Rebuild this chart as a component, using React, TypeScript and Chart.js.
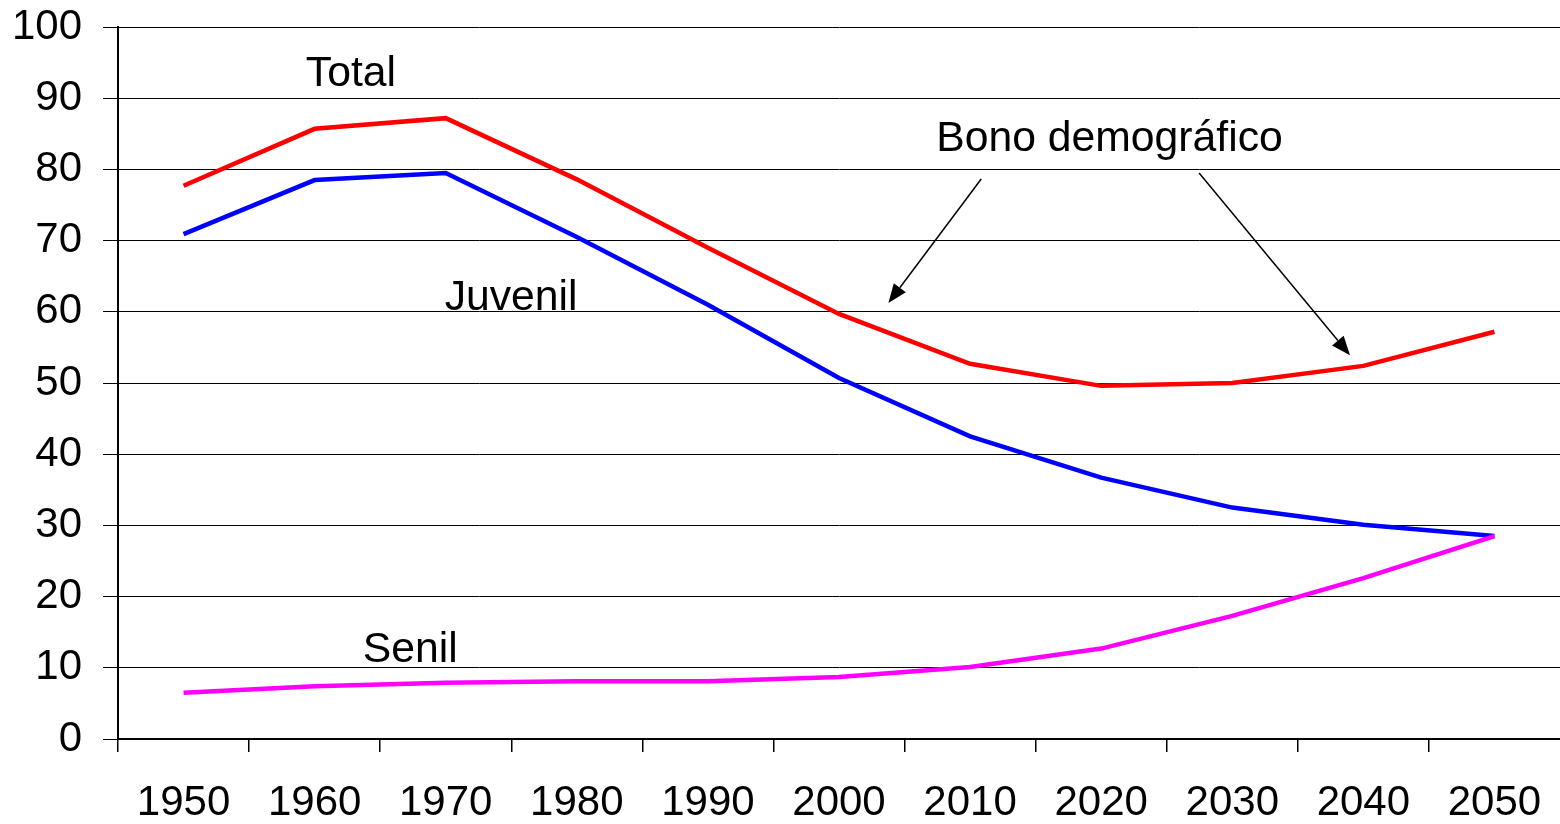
import React, { useEffect, useRef } from 'react';
import { Chart, registerables } from 'chart.js';

Chart.register(...registerables);

const years = ['1950', '1960', '1970', '1980', '1990', '2000', '2010', '2020', '2030', '2040', '2050'];
const total = [77.7, 85.7, 87.2, 78.6, 69.0, 59.7, 52.7, 49.6, 50.0, 52.4, 57.2];
const juvenil = [70.9, 78.5, 79.5, 70.5, 61.0, 50.7, 42.5, 36.7, 32.5, 30.1, 28.5];
const senil = [6.5, 7.4, 7.9, 8.1, 8.1, 8.7, 10.1, 12.7, 17.3, 22.6, 28.5];

const yMin = 0;
const yMax = 100;
const yStep = 10;

// Annotation texts, anchored in data units (category index, value)
const noteTexts = ['Total', 'Juvenil', 'Senil', 'Bono demográfico'];
const noteX = [0.933, 1.992, 1.367, 5.742];
const noteY = [91.7, 60.25, 10.8, 82.6];

// Arrows in data units
const arrowFromX = [6.085, 7.747];
const arrowFromY = [78.65, 79.5];
const arrowToX = [5.377, 8.898];
const arrowToY = [61.24, 53.9];

const FONT = "'Liberation Sans', Arial, sans-serif";
const FONT_SIZE = 42;
const NOTE_FONT_SIZE = 42.7;

const annotationPlugin = {
  id: 'annotations',
  afterDatasetsDraw(chart: any) {
    const ctx = chart.ctx as CanvasRenderingContext2D;
    const xs = chart.scales.x;
    const ys = chart.scales.y;
    ctx.save();
    ctx.fillStyle = '#000';
    ctx.font = `${NOTE_FONT_SIZE}px ${FONT}`;
    ctx.textAlign = 'left';
    ctx.textBaseline = 'alphabetic';
    noteTexts.forEach((t, i) => {
      ctx.fillText(t, xs.getPixelForValue(noteX[i]), ys.getPixelForValue(noteY[i]));
    });
    ctx.strokeStyle = '#000';
    ctx.lineWidth = 1.5;
    arrowFromX.forEach((_, i) => {
      const x1 = xs.getPixelForValue(arrowFromX[i]);
      const y1 = ys.getPixelForValue(arrowFromY[i]);
      const x2 = xs.getPixelForValue(arrowToX[i]);
      const y2 = ys.getPixelForValue(arrowToY[i]);
      const ang = Math.atan2(y2 - y1, x2 - x1);
      const headLen = 19;
      const headHalf = 7.5;
      const bx = x2 - headLen * Math.cos(ang);
      const by = y2 - headLen * Math.sin(ang);
      ctx.beginPath();
      ctx.moveTo(x1, y1);
      ctx.lineTo(bx, by);
      ctx.stroke();
      ctx.beginPath();
      ctx.moveTo(x2, y2);
      ctx.lineTo(bx + headHalf * Math.sin(ang), by - headHalf * Math.cos(ang));
      ctx.lineTo(bx - headHalf * Math.sin(ang), by + headHalf * Math.cos(ang));
      ctx.closePath();
      ctx.fill();
    });
    ctx.restore();
  },
};

export default function App() {
  const canvasRef = useRef<HTMLCanvasElement | null>(null);

  useEffect(() => {
    document.body.style.margin = '0';
    const canvas = canvasRef.current;
    if (!canvas) return;
    const chart = new Chart(canvas, {
      type: 'line',
      data: {
        labels: years,
        datasets: [
          { label: 'Total', data: total, borderColor: '#FF0000', backgroundColor: '#FF0000', borderWidth: 4.5, pointRadius: 0, tension: 0, fill: false },
          { label: 'Senil', data: senil, borderColor: '#FF00FF', backgroundColor: '#FF00FF', borderWidth: 4.5, pointRadius: 0, tension: 0, fill: false },
          { label: 'Juvenil', data: juvenil, borderColor: '#0000FF', backgroundColor: '#0000FF', borderWidth: 4.5, pointRadius: 0, tension: 0, fill: false },
        ],
      },
      options: {
        animation: false,
        responsive: false,
        maintainAspectRatio: false,
        devicePixelRatio: 1,
        layout: { padding: { top: 27, left: 0, right: 0, bottom: 0 } },
        plugins: {
          legend: { display: false },
          tooltip: { enabled: false },
          title: { display: false },
        },
        scales: {
          x: {
            type: 'category',
            offset: true,
            grid: {
              offset: true,
              drawOnChartArea: false,
              drawTicks: true,
              tickLength: 13,
              color: (c: any) => (c.type === 'tick' ? '#000' : 'rgba(0,0,0,0)'),
              lineWidth: 1.5,
            },
            border: { display: true, color: '#000', width: 2 },
            ticks: {
              color: '#000',
              font: { family: FONT, size: FONT_SIZE },
              padding: 26,
              maxRotation: 0,
              minRotation: 0,
              autoSkip: false,
            },
            afterFit(scale: any) {
              scale.height = 85;
              scale.paddingLeft = 0;
              scale.paddingRight = 0;
            },
          },
          y: {
            min: yMin,
            max: yMax,
            grid: {
              drawOnChartArea: true,
              drawTicks: true,
              tickLength: 15,
              color: '#000',
              lineWidth: 1,
            },
            border: { display: true, color: '#000', width: 2 },
            ticks: {
              stepSize: yStep,
              color: '#000',
              font: { family: FONT, size: FONT_SIZE },
              padding: 21,
            },
            afterFit(scale: any) {
              scale.width = 118;
              scale.paddingTop = 0;
              scale.paddingBottom = 0;
            },
          },
        },
      },
      plugins: [annotationPlugin],
    });
    return () => chart.destroy();
  }, []);

  return (
    <div style={{ position: 'absolute', left: 0, top: 0, width: 1560, height: 824, background: '#fff' }}>
      <canvas ref={canvasRef} width={1560} height={824} style={{ width: 1560, height: 824, display: 'block' }} />
    </div>
  );
}
